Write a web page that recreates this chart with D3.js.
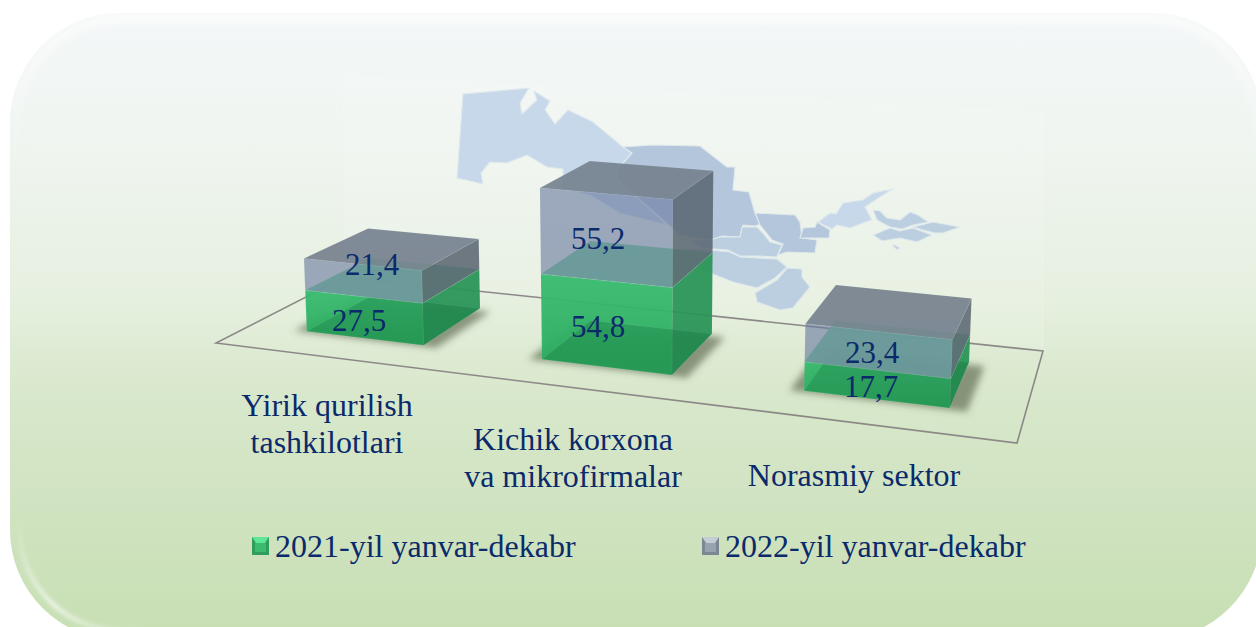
<!DOCTYPE html>
<html>
<head>
<meta charset="utf-8">
<script src="https://d3js.org/d3.v7.min.js"></script>
<style>
html, body { margin: 0; padding: 0; background: #fff; }
svg { display: block; }
text { font-family: "Liberation Serif", "Times New Roman", serif; fill: #0b2a6b; }
</style>
</head>
<body>
<svg id="chart" width="1256" height="627"></svg>
<script>
// data
var categories = ["Yirik qurilish tashkilotlari", "Kichik korxona va mikrofirmalar", "Norasmiy sektor"]
var values2021 = [27.5, 54.8, 17.7]
var values2022 = [21.4, 55.2, 23.4]
var seriesNames = ["2021-yil yanvar-dekabr", "2022-yil yanvar-dekabr"]
var categoryLines = [["Yirik qurilish", "tashkilotlari"], ["Kichik korxona", "va mikrofirmalar"], ["Norasmiy sektor"]]

// layout
var width = 1256
var height = 627
var labelSize = 32
var valueSize = 31
var floorCorners = [[216, 343], [1017, 443], [1043, 351], [345, 277]]  // front-left, front-right, back-right, back-left
var wallQuad = [[345, 277], [1043, 351], [1042, 113], [343, 75]]
var categoryPos = [[327, 416], [573, 450], [854, 486]]
var valuePos2021 = [[359, 331], [598, 337], [871, 397]]
var valuePos2022 = [[372, 275], [598, 249], [872, 363]]
var legendPos = [[252, 537], [702, 537]]

// background map of the country, traced by hand (decoration, not data)
var mapLight = "#c6d8ea", mapDark = "#b4c6db", mapMid = "#bccfe0"
var mapRegions = [
	{fill: mapLight, pts: [[463,94],[529,88],[520,103],[522,114],[537,100],[534,91],[550,101],[545,110],[555,124],[568,110],[593,122],[623,147],[632,153],[617,170],[617,180],[640,200],[667,225],[620,213],[590,195],[563,188],[563,169],[547,167],[527,155],[507,163],[490,162],[481,173],[483,184],[457,178]]},
	{fill: mapDark, pts: [[623,147],[653,145],[700,146],[727,167],[735,167],[733,190],[749,192],[755,213],[761,224],[755,226],[743,225],[740,237],[722,236],[710,241],[680,235],[640,200],[617,178],[617,170],[632,153]]},
	{fill: mapMid, pts: [[742,227],[757,227],[763,233],[770,242],[782,245],[777,257],[757,256],[740,256],[728,250],[700,248],[690,240],[710,240],[720,237],[740,237]]},
	{fill: mapMid, pts: [[690,248],[730,252],[740,257],[777,259],[787,267],[775,278],[757,288],[733,282],[710,273],[690,262]]},
	{fill: mapMid, pts: [[787,268],[802,269],[802,277],[810,287],[793,308],[780,310],[757,302],[755,293],[777,280]]},
	{fill: mapDark, pts: [[755,213],[795,215],[800,222],[802,238],[817,240],[815,253],[787,252],[778,255],[783,244],[772,240],[760,225]]},
	{fill: mapDark, pts: [[803,228],[815,227],[817,222],[830,230],[829,238],[800,238]]},
	{fill: mapLight, pts: [[818,222],[830,213],[836,214],[843,203],[863,200],[873,193],[893,189],[880,197],[865,207],[872,220],[863,223],[850,228],[837,225],[832,229]]},
	{fill: mapMid, pts: [[873,210],[880,211],[887,218],[900,220],[910,212],[918,215],[928,222],[913,225],[902,229],[890,227],[877,220]]},
	{fill: mapMid, pts: [[873,235],[890,228],[900,231],[913,228],[932,235],[917,242],[900,238],[882,241]]},
	{fill: mapMid, pts: [[913,227],[933,222],[960,227],[943,233],[935,233],[923,230]]},
	{fill: mapMid, pts: [[893,244],[900,248],[897,250],[893,246]]}
]

const svg = d3.select("#chart")
const defs = svg.append("defs")

function linearGrad(id, stops) {
	let g = defs.append("linearGradient").attr("id", id)
		.attr("x1", 0).attr("y1", 0).attr("x2", 0).attr("y2", 1)
	stops.forEach(s => g.append("stop").attr("offset", s[0]).attr("stop-color", s[1]).attr("stop-opacity", s[2] === undefined ? 1 : s[2]))
	return g
}
linearGrad("panel", [[0, "#f4f7f8"], [0.19, "#f0f5f1"], [0.45, "#e6f0e0"], [0.6, "#d9e8cc"], [0.75, "#d2e4c3"], [1, "#c7dfb3"]])
linearGrad("greenFront", [[0, "#38bb6f"], [1, "#2aab5e"]])
linearGrad("rimTop", [[0, "#fff", 0.75], [1, "#fff", 0]])
	.attr("gradientUnits", "userSpaceOnUse").attr("y1", 20).attr("y2", 150).attr("x1", 0).attr("x2", 0)

const rimCorner = defs.append("radialGradient").attr("id", "rimCorner")
	.attr("gradientUnits", "userSpaceOnUse").attr("cx", 55).attr("cy", 605).attr("r", 95)
rimCorner.append("stop").attr("offset", 0).attr("stop-color", "#fff").attr("stop-opacity", 0.85)
rimCorner.append("stop").attr("offset", 1).attr("stop-color", "#fff").attr("stop-opacity", 0)

function blurFilter(id, dev) {
	defs.append("filter").attr("id", id).attr("x", "-20%").attr("y", "-20%").attr("width", "140%").attr("height", "140%")
		.append("feGaussianBlur").attr("stdDeviation", dev)
}
blurFilter("blur3", 3.5)
blurFilter("blur2", 2)
blurFilter("soft", 0.5)

// panel
svg.append("rect")
	.attr("x", 10).attr("y", 13).attr("width", 1252).attr("height", 627).attr("rx", 110)
	.attr("fill", "url(#panel)")

// highlights along the panel edge
svg.append("rect")
	.attr("x", 16).attr("y", 19).attr("width", 1240).attr("height", 615).attr("rx", 104)
	.attr("fill", "none").attr("stroke", "url(#rimTop)").attr("stroke-width", 7)
	.attr("filter", "url(#blur3)")
svg.append("rect")
	.attr("x", 20).attr("y", 23).attr("width", 1232).attr("height", 607).attr("rx", 100)
	.attr("fill", "none").attr("stroke", "url(#rimCorner)").attr("stroke-width", 3.5)
	.attr("filter", "url(#blur2)")

// floor projection: unit square to the drawn parallelogram
function makeFloor(q) {
	let [x0, y0] = q[0], [x1, y1] = q[1], [x2, y2] = q[2], [x3, y3] = q[3]
	let dx1 = x1 - x2, dy1 = y1 - y2, dx2 = x3 - x2, dy2 = y3 - y2
	let sx = x0 - x1 + x2 - x3, sy = y0 - y1 + y2 - y3
	let det = dx1 * dy2 - dx2 * dy1
	let g = (sx * dy2 - dx2 * sy) / det
	let h = (dx1 * sy - sx * dy1) / det
	let a = x1 - x0 + g * x1, b = x3 - x0 + h * x3
	let d = y1 - y0 + g * y1, e = y3 - y0 + h * y3
	return function(u, v) {
		let w = g * u + h * v + 1
		return [(a * u + b * v + x0) / w, (d * u + e * v + y0) / w]
	}
}
const floor = makeFloor(floorCorners)

const x = d3.scaleBand().domain(categories).range([0, 1]).paddingInner(0.49).paddingOuter(0.25)
const y = d3.scaleLinear().domain([0, 100]).range([0, 160])
const nearFar = d3.scaleLinear().domain([0, 1]).range([0.92, 1.05])   // right side is drawn a bit taller
const depth = d3.scaleLinear().domain([0, 1]).range([0.25, 0.77])

function project(u, d, val) {
	let p = floor(u, depth(d))
	let px = y(val) * nearFar(u) * (1 - 0.07 * d)
	return [p[0] + (p[0] - 640) * 0.00012 * px, p[1] - px]
}
const poly = pts => "M" + pts.map(p => p.join(",")).join("L") + "Z"

// back wall, barely visible
svg.append("path").attr("d", poly(wallQuad))
	.attr("fill", "#fff").attr("fill-opacity", 0.12)
	.attr("stroke", "#fff").attr("stroke-opacity", 0.2)

// map
svg.append("g").attr("filter", "url(#soft)").selectAll("path").data(mapRegions).join("path")
	.attr("d", d => poly(d.pts))
	.attr("fill", d => d.fill)
	.attr("stroke", "#dfe9ec").attr("stroke-width", 1.2).attr("stroke-linejoin", "round")

// floor outline
svg.append("path").attr("d", poly(floorCorners))
	.attr("fill", "none").attr("stroke", "#8c8888").attr("stroke-width", 1.6)

// shadows on the floor
svg.append("g").selectAll("path").data(categories).join("path")
	.attr("d", c => {
		let u0 = x(c) - 0.016, u1 = x(c) + x.bandwidth() + 0.02
		return poly([floor(u0, 0.235), floor(u1, 0.235), floor(u1, 0.74), floor(u0, 0.74)])
	})
	.attr("fill", "#4f5a40").attr("fill-opacity", 0.6)
	.attr("filter", "url(#blur3)")

function face(g, pts, fill, opacity) {
	g.append("path").attr("d", poly(pts))
		.attr("fill", fill).attr("fill-opacity", opacity)
		.attr("stroke", "#fff").attr("stroke-opacity", 0.06).attr("stroke-linejoin", "round")
}

// bars
const bar = svg.append("g").selectAll("g").data(categories).join("g")
bar.each(function(c, i) {
	let g = d3.select(this)
	let u0 = x(c), u1 = x(c) + x.bandwidth()
	let a = values2021[i], b = a + values2022[i]

	// 2021 box
	face(g, [project(u1, 0, 0), project(u1, 1, 0), project(u1, 1, a), project(u1, 0, a)], "#2a9557", 0.95)
	face(g, [project(u0, 0, 0), project(u1, 0, 0), project(u1, 0, a), project(u0, 0, a)], "url(#greenFront)", 0.95)
	face(g, [project(u0, 0, 0), project(u1, 0, 0), project(u1, 1, 0), project(u0, 1, 0)], "#12703c", 0.3)
	face(g, [project(u0, 0, a), project(u1, 0, a), project(u1, 1, a), project(u0, 1, a)], "#73cf96", 0.95)

	// 2022 box sits on top of it
	face(g, [project(u1, 0, a), project(u1, 1, a), project(u1, 1, b), project(u1, 0, b)], "#57636f", 0.85)
	face(g, [project(u0, 1, b), project(u1, 1, b), project(u1, 0, b), project(u0, 0, b)], "#76828f", 0.93)
	face(g, [project(u0, 0, a), project(u1, 0, a), project(u1, 0, b), project(u0, 0, b)], "#66769d", 0.6)
})

// value labels
function valueLabels(vals, pos) {
	svg.append("g").selectAll("text").data(vals).join("text")
		.attr("x", (d, i) => pos[i][0]).attr("y", (d, i) => pos[i][1])
		.attr("text-anchor", "middle").attr("font-size", valueSize)
		.text(d => d3.format(".1f")(d).replace(".", ","))
}
valueLabels(values2021, valuePos2021)
valueLabels(values2022, valuePos2022)

// category labels
const catLabel = svg.append("g").selectAll("text").data(categoryLines).join("text")
	.attr("text-anchor", "middle").attr("font-size", labelSize)
catLabel.selectAll("tspan").data((d, i) => d.map(t => ({t: t, i: i}))).join("tspan")
	.attr("x", d => categoryPos[d.i][0])
	.attr("y", (d, j) => categoryPos[d.i][1] + j * 37)
	.text(d => d.t)

// legend
var legendColors = [
	{base: "#3cbb70", light: "#5fe596", dark: "#2f9e5c"},
	{base: "#97a3ae", light: "#c4ccd4", dark: "#7b8894"}
]
const legend = svg.append("g").selectAll("g").data(seriesNames).join("g")
	.attr("transform", (d, i) => `translate(${legendPos[i][0]},${legendPos[i][1]})`)
legend.append("rect").attr("width", 17).attr("height", 18).attr("fill", (d, i) => legendColors[i].dark)
legend.append("path").attr("d", "M0,0H17L13,6H4Z").attr("fill", (d, i) => legendColors[i].light)
legend.append("rect").attr("x", 3).attr("y", 6).attr("width", 11).attr("height", 9).attr("fill", (d, i) => legendColors[i].base)
legend.append("text").attr("x", 23).attr("y", 20).attr("font-size", labelSize).text(d => d)
</script>
</body>
</html>
